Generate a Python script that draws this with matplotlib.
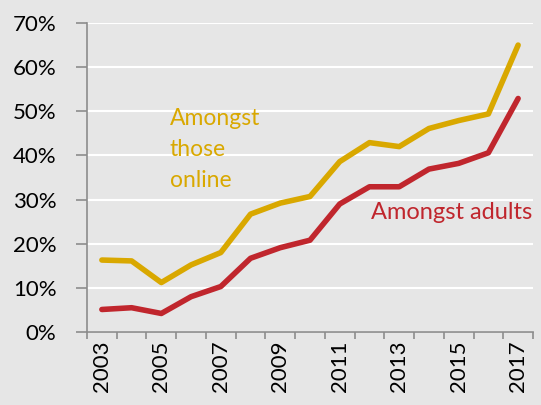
import matplotlib.pyplot as plt
from matplotlib.ticker import FuncFormatter

years = list(range(2003, 2018))
online = [16.3, 16.1, 11.2, 15.2, 18.0, 26.7, 29.2, 30.7, 38.6, 42.9, 42.0, 46.1, 47.9, 49.4, 65.0]
adults = [5.1, 5.5, 4.2, 8.0, 10.3, 16.7, 19.1, 20.8, 29.0, 32.9, 32.9, 36.9, 38.2, 40.6, 52.9]
year_labels = [str(y) if y % 2 == 1 else "" for y in years]

bg = "#e6e6e6"
gold = "#d9a800"
red = "#c0262d"
axis_grey = "#8c8c8c"

plt.rcParams["font.family"] = ["Lato", "DejaVu Sans"]

fig = plt.figure(figsize=(5.41, 4.05), dpi=100, facecolor=bg)
ax = fig.add_axes([87 / 541, 1 - 332 / 405, (533 - 87) / 541, (332 - 23) / 405])
ax.set_facecolor(bg)

x = list(range(len(years)))
ax.plot(x, online, color=gold, lw=4, solid_capstyle="round", zorder=3)
ax.plot(x, adults, color=red, lw=4, solid_capstyle="round", zorder=3)

ax.set_xlim(-0.5, len(years) - 0.5)
ax.set_ylim(0, 70)
ax.set_yticks(range(0, 71, 10))
ax.yaxis.set_major_formatter(FuncFormatter(lambda v, p: f"{v:.0f}%"))
ax.grid(axis="y", color="white", lw=1.5, zorder=0)

ax.set_xticks(x)
ax.set_xticklabels(year_labels, rotation=90)
ax.set_xticks([i - 0.5 for i in range(len(years) + 1)], minor=True)
ax.tick_params(axis="x", which="major", length=0, pad=6, labelsize=16)
ax.tick_params(axis="x", which="minor", length=5, color=axis_grey, width=1.2)
ax.tick_params(axis="y", length=8, color=axis_grey, width=1.2, pad=14, labelsize=16)

for s in ["top", "right"]:
    ax.spines[s].set_visible(False)
for s in ["left", "bottom"]:
    ax.spines[s].set_color(axis_grey)
    ax.spines[s].set_linewidth(1.2)

ax.text(2.29, 50.8, "Amongst\nthose\nonline", color=gold, fontsize=16.5,
        va="top", ha="left", linespacing=1.6)
ax.text(9.05, 27.0, "Amongst adults", color=red, fontsize=17,
        va="center", ha="left")

fig.savefig("out.png", dpi=100, facecolor=bg)
